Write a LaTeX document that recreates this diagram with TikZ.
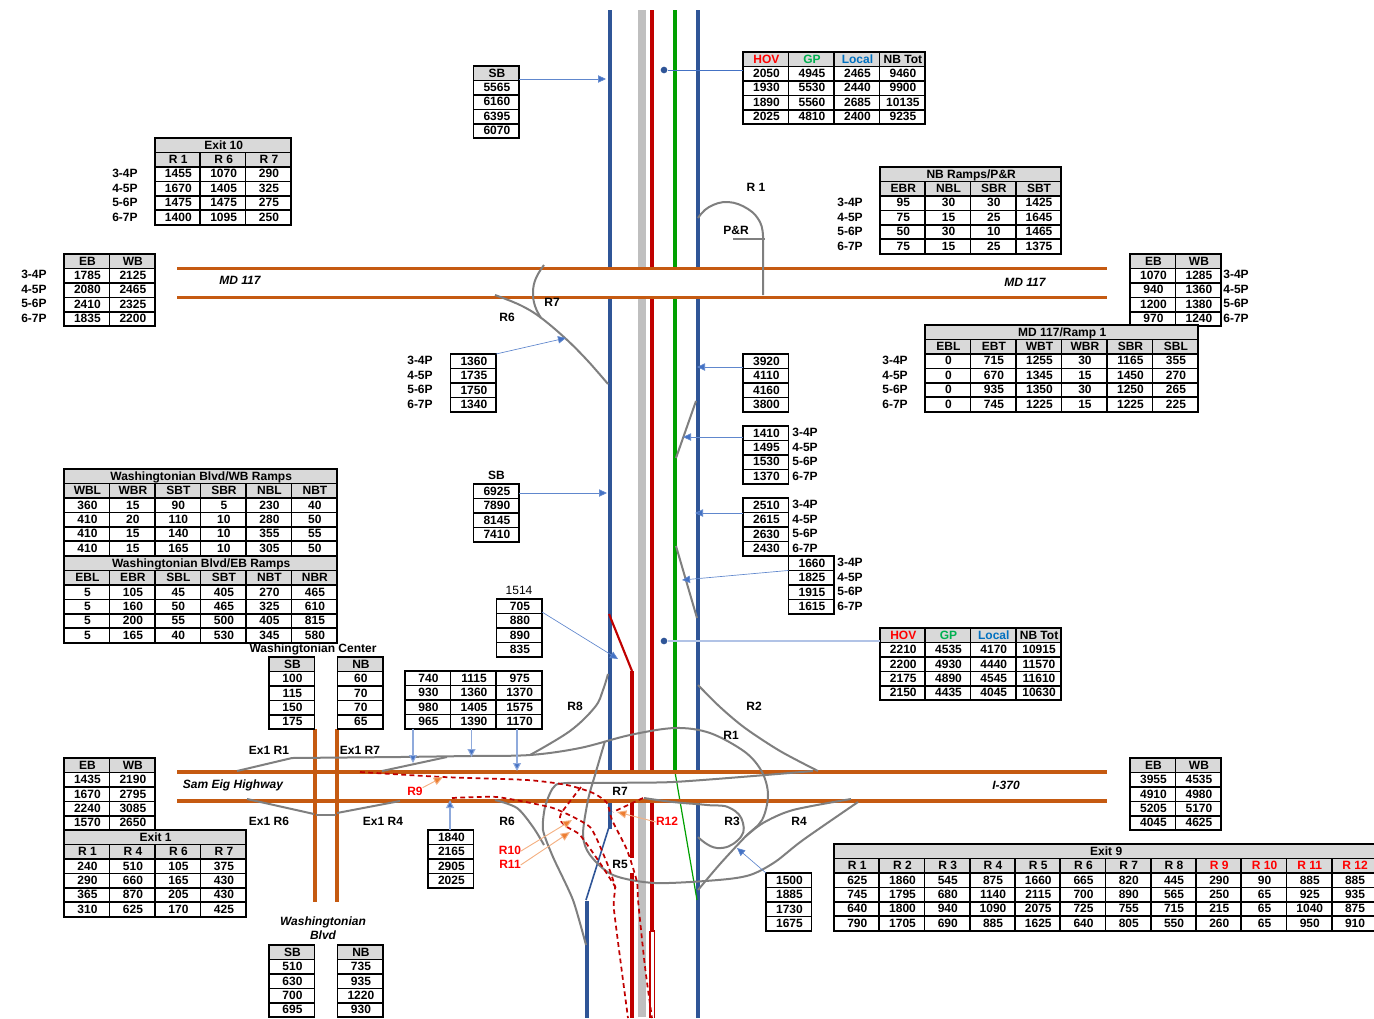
\documentclass[tikz,border=0pt]{standalone}
\usepackage{fontspec}
\setmainfont{Liberation Sans}
\usetikzlibrary{arrows.meta,calc}
\definecolor{roadblue}{HTML}{2F5597}
\definecolor{roadred}{HTML}{C00000}
\definecolor{roadgreen}{HTML}{00A000}
\definecolor{roadorange}{HTML}{C55A11}
\definecolor{median}{HTML}{BFBFBF}
\definecolor{ramp}{HTML}{7F7F7F}
\definecolor{headgray}{HTML}{D9D9D9}
\definecolor{arrblue}{HTML}{4472C4}
\definecolor{arrlight}{HTML}{8FAADC}
\definecolor{arrorange}{HTML}{ED7D31}
\definecolor{arrolight}{HTML}{F4B183}
\definecolor{hovred}{HTML}{FF0000}
\definecolor{gpgreen}{HTML}{00B050}
\definecolor{localblue}{HTML}{0070C0}
\tikzset{
  tcell/.style={draw=black,line width=1.25pt,inner sep=0pt,outer sep=0pt,text height=6.2pt,text depth=0.4pt,align=center},
  txt/.style={inner sep=0pt,outer sep=0pt,text height=6.2pt,text depth=0.4pt},
  orange road/.style={draw=roadorange,line width=2.4pt},
  blue road/.style={draw=roadblue,line width=3.2pt},
  red road/.style={draw=roadred,line width=2.3pt},
  green road/.style={draw=roadgreen,line width=3.4pt},
  median road/.style={draw=median,line width=6pt},
  ramp line/.style={draw=ramp,line width=1.5pt,line join=round},
  red dash/.style={draw=roadred,line width=1.3pt,dash pattern=on 3.6pt off 2.6pt},
  blue arr/.style={draw=arrblue!85,line width=.5pt,-{Triangle[length=6pt,width=5.5pt,fill=arrblue]}},
  light arr/.style={draw=arrlight,line width=.8pt,-{Triangle[length=6pt,width=6pt,fill=arrblue]}},
  orange arr/.style={draw=arrolight,line width=.7pt,-{Triangle[length=7pt,width=6pt,fill=arrorange]}},
  road dot/.style={circle,fill=roadblue,inner sep=0pt,minimum size=5pt},
}
\def\rowh{14.45}
% name, x, y, column width, header rows, rows
\newcommand{\tb}[6]{%
  \foreach \rr [count=\ri from 1] in {#6}{%
    \foreach \cc [count=\ci from 1] in \rr {%
      \ifnum\ri>#5\relax\def\fc{white}\else\def\fc{headgray}\fi
      \node[tcell,fill=\fc,minimum width=#4*0.75pt,minimum height=\rowh*0.75pt] (#1-\ri-\ci) at ({#2+(\ci-0.5)*#4},{#3+(\ri-0.5)*\rowh}) {\hspace*{1pt}\cc};
    }%
  }%
}
% name, x, y, width, text
\newcommand{\tbtitle}[5]{%
  \node[tcell,fill=headgray,minimum width=#4*0.75pt,minimum height=\rowh*0.75pt] (#1) at ({#2+0.5*#4},{#3+0.5*\rowh}) {\hspace*{1pt}#5};
}
% name, x, y of first row centre
\newcommand{\hours}[3]{%
  \foreach \hh [count=\hi from 0] in {3-4P,4-5P,5-6P,6-7P}{%
    \node[txt] (#1-\hi) at ({#2},{#3+\hi*\rowh}) {\hh};
  }%
}
\newcommand{\hov}{\textcolor{hovred}{HOV}}
\newcommand{\gpx}{\textcolor{gpgreen}{GP}}
\newcommand{\lcl}{\textcolor{localblue}{Local}}
\newcommand{\redt}[1]{\textcolor{hovred}{#1}}
\begin{document}
\begin{tikzpicture}[x=0.75pt,y=-0.75pt,every node/.append style={font=\fontsize{9}{10}\selectfont\bfseries}]
\useasboundingbox (0,0) rectangle (1374,1018);

% mainline carriageways
\draw[median road] (642,10) -- (642,268) (642,298) -- (642,772) (642,800) -- (642,1017);
\draw[blue road] (610,10) -- (610,269) (610,297) -- (610,772) (610,800) -- (610,829);
\draw[blue road] (587,901) -- (587,1018);
\draw[draw=roadblue,line width=1.2pt] (609,827) -- (586,900);
\draw[blue road] (698,10) -- (698,269) (698,297) -- (698,772) (698,801) -- (698,1018);
\draw[red road] (652,10) -- (652,269) (652,297) -- (652,772) (652,801) -- (652,931);
\draw[draw=roadred,line width=1.1pt] (650,931) -- (650,1018) (654.5,931) -- (654.5,1018) (650,931) -- (654.5,931);
\draw[green road] (675,10) -- (675,269) (675,297) -- (675,772);
\draw[draw=roadgreen,line width=.9pt] (675,772) -- (697,900);
\draw[draw=roadred,line width=1.6pt] (609,614) -- (632,671);
\draw[red road] (632,671) -- (632,772) (632,800) -- (632,858) (632,873) -- (632,960);
\draw[draw=roadred,line width=3.6pt] (632,960) -- (632,1018);

% cross streets
\draw[orange road] (177,268.5) -- (1107,268.5) (177,297.5) -- (1107,297.5);
\draw[orange road] (177,772) -- (1107,772) (177,801) -- (1107,801);
\draw[orange road] (315,729) -- (315,902) (337,729) -- (337,902);

% ramps, north part
\draw[ramp line] plot[smooth,tension=.7] coordinates {(698,218) (709,207) (728,202) (748,209) (760,222) (763,236)} -- (763,295);
\draw[ramp line] (733,239) -- (765,239);
\draw[ramp line] plot[smooth,tension=.7] coordinates {(544,265) (536,278) (533,292) (535,306) (541,318)};
\draw[ramp line] plot[smooth,tension=.6] coordinates {(495,295) (520,305) (540,317) (565,338) (587,360) (608,384)};
\draw[ramp line] (696,401) -- (676,458);
\draw[ramp line] (676,546) -- (697,618);

% ramps, south part
\draw[ramp line] plot[smooth,tension=.5] coordinates {(698,685) (720,707) (745,728) (780,751) (818,771)};
\draw[ramp line] plot[smooth,tension=.6] coordinates {(608,674) (603,690) (595,707) (570,731) (530,755)};
\draw[ramp line] (237,771) -- (292,758) -- (400,757);
\draw[ramp line] (382,771) -- (447,757);
\draw[ramp line] (247,799) -- (314,814);
\draw[draw=ramp,line width=2.2pt] (316,815) -- (336,815);
\draw[ramp line] (337,813) -- (400,801);
\draw[ramp line] plot[smooth,tension=.55] coordinates {(400,757) (470,756) (530,755) (580,748) (630,735) (675,728) (710,733) (745,752) (762,772) (768,795) (762,820) (745,837) (720,864) (698,890)};
\draw[ramp line] plot[smooth,tension=.5] coordinates {(851,799) (793,810) (763,823) (745,837)};
\draw[ramp line] plot[smooth,tension=.5] coordinates {(605,741) (595,775) (588,800) (583,835) (590,855) (613,875) (655,883) (718,880) (750,875) (775,862) (803,840) (858,802)};
\draw[ramp line] plot[smooth,tension=.8] coordinates {(644,798) (673,802) (707,805) (730,808) (743,823) (738,840) (717,848) (698,837)};
\draw[ramp line] plot[smooth,tension=.4] coordinates {(813,771) (673,782) (567,783) (553,788) (545,807) (543,830) (553,857) (573,900) (586,945)};
\draw[ramp line] plot[smooth,tension=.5] coordinates {(495,800) (517,808) (533,827) (544,845)};

% proposed ramps, dashed
\draw[red dash] plot[smooth,tension=.4] coordinates {(360,772) (443,777) (527,780) (567,785) (593,793) (607,803) (612,820) (627,850) (637,882) (638,900) (645,967) (652,1018)};
\draw[red dash] (643,798) -- (613,812);
\draw[red dash] plot[smooth,tension=.35] coordinates {(581,787) (562,812) (560,820) (567,827) (580,835) (600,863) (616,888)};
\draw[red dash] plot[smooth,tension=.3] coordinates {(452,798) (497,797) (553,808) (590,827) (607,863) (615,887) (614,910) (628,1018)};

% tables
\tb{nb1}{743}{52}{45.5}{1}{{\hov,\gpx,\lcl,NB Tot},{2050,4945,2465,9460},{1930,5530,2440,9900},{1890,5560,2685,10135},{2025,4810,2400,9235}}
\tb{sb1}{473.5}{66}{45.5}{1}{{SB},{5565},{6160},{6395},{6070}}
\tbtitle{ex10}{155}{138}{136}{Exit 10}
\tb{ex10t}{155}{152.45}{45.33}{1}{{R 1,R 6,R 7},{1455,1070,290},{1670,1405,325},{1475,1475,275},{1400,1095,250}}
\hours{ex10h}{125}{174}
\tbtitle{nbr}{880}{167}{181}{NB Ramps/P\&R}
\tb{nbrt}{880}{181.45}{45.25}{1}{{EBR,NBL,SBR,SBT},{95,30,30,1425},{75,15,25,1645},{50,30,10,1465},{75,15,25,1375}}
\hours{nbrh}{850}{203}
\tb{mdl}{64}{254}{45.5}{1}{{EB,WB},{1785,2125},{2080,2465},{2410,2325},{1835,2200}}
\hours{mdlh}{34}{275}
\tb{mdr}{1130}{254}{45.5}{1}{{EB,WB},{1070,1285},{940,1360},{1200,1380},{970,1240}}
\hours{mdrh}{1236}{275}
\tbtitle{mdq}{925}{325}{273}{MD 117/Ramp 1}
\tb{mdqt}{925}{339.45}{45.5}{1}{{EBL,EBT,WBT,WBR,SBR,SBL},{0,715,1255,30,1165,355},{0,670,1345,15,1450,270},{0,935,1350,30,1250,265},{0,745,1225,15,1225,225}}
\hours{mdqh}{895}{361}
\tb{r6t}{450.5}{354}{45.5}{0}{{1360},{1735},{1750},{1340}}
\hours{r6h}{420}{361}
\tb{a39}{743}{354}{45.5}{0}{{3920},{4110},{4160},{3800}}
\tb{a14}{743}{426}{45.5}{0}{{1410},{1495},{1530},{1370}}
\hours{a14h}{805}{433}
\tb{a25}{743}{498}{45.5}{0}{{2510},{2615},{2630},{2430}}
\hours{a25h}{805}{505}
\tb{a16}{788.5}{556}{45.5}{0}{{1660},{1825},{1915},{1615}}
\hours{a16h}{850}{563}
\node[txt] (sb2l) at (496.5,476) {SB};
\tb{sb2}{473.5}{484}{45.5}{0}{{6925},{7890},{8145},{7410}}
\tbtitle{wwb}{64}{469}{273}{Washingtonian Blvd/WB Ramps}
\tb{wwbt}{64}{483.45}{45.5}{1}{{WBL,WBR,SBT,SBR,NBL,NBT},{360,15,90,5,230,40},{410,20,110,10,280,50},{410,15,140,10,355,55},{410,15,165,10,305,50}}
\tbtitle{web}{64}{556}{273}{Washingtonian Blvd/EB Ramps}
\tb{webt}{64}{570.45}{45.5}{1}{{EBL,EBR,SBL,SBT,NBT,NBR},{5,105,45,405,270,465},{5,160,50,465,325,610},{5,200,55,500,405,815},{5,165,40,530,345,580}}
\node[txt,font=\fontsize{9}{10}\selectfont\mdseries] (l1514) at (519,591) {1514};
\tb{a705}{496.5}{599}{45.5}{0}{{705},{880},{890},{835}}
\tb{nb2}{880}{628}{45.25}{1}{{\hov,\gpx,\lcl,NB Tot},{2210,4535,4170,10915},{2200,4930,4440,11570},{2175,4890,4545,11610},{2150,4435,4045,10630}}
\node[txt] (wcl) at (313,649) {Washingtonian Center};
\tb{wcs}{269}{657}{45.5}{1}{{SB},{100},{115},{150},{175}}
\tb{wcn}{337.5}{657}{45.5}{1}{{NB},{60},{70},{70},{65}}
\tb{a74}{405}{671}{45.6}{0}{{740,1115,975},{930,1360,1370},{980,1405,1575},{965,1390,1170}}
\tb{sel}{64}{758}{45.5}{1}{{EB,WB},{1435,2190},{1670,2795},{2240,3085},{1570,2650}}
\tbtitle{ex1}{64}{830}{182}{Exit 1}
\tb{ex1t}{64}{844.45}{45.5}{1}{{R 1,R 4,R 6,R 7},{240,510,105,375},{290,660,165,430},{365,870,205,430},{310,625,170,425}}
\tb{a18}{428}{830}{45.5}{0}{{1840},{2165},{2905},{2025}}
\tb{a15}{766}{873}{45.5}{0}{{1500},{1885},{1730},{1675}}
\tb{ser}{1130}{758}{45.5}{1}{{EB,WB},{3955,4535},{4910,4980},{5205,5170},{4045,4625}}
\tbtitle{ex9}{834}{844}{543}{Exit 9}
\tb{ex9t}{834}{858.45}{45.25}{1}{{R 1,R 2,R 3,R 4,R 5,R 6,R 7,R 8,\redt{R 9},\redt{R 10},\redt{R 11},\redt{R 12}},{625,1860,545,875,1660,665,820,445,290,90,885,885},{745,1795,680,1140,2115,700,890,565,250,65,925,935},{640,1800,940,1090,2075,725,755,715,215,65,1040,875},{790,1705,690,885,1625,640,805,550,260,65,950,910}}
\tb{wbs}{269}{945}{45.5}{1}{{SB},{510},{630},{700},{695}}
\tb{wbn}{337.5}{945}{45.5}{1}{{NB},{735},{935},{1220},{930}}

% labels
\node[txt] (lr1a) at (756,188) {R 1};
\node[txt] (lpr) at (736,231) {P\&R};
\node[txt] (lr7a) at (552,303) {R7};
\node[txt] (lr6a) at (507,318) {R6};
\node[txt,font=\fontsize{9}{10}\selectfont\bfseries\itshape] (lmd1) at (240,281) {MD 117};
\node[txt,font=\fontsize{9}{10}\selectfont\bfseries\itshape] (lmd2) at (1025,283) {MD 117};
\node[txt] (lr8) at (575,707) {R8};
\node[txt] (lr2) at (754,707) {R2};
\node[txt] (lr1b) at (731,736) {R1};
\node[txt] (lex1) at (269,751) {Ex1 R1};
\node[txt] (lex7) at (360,751) {Ex1 R7};
\node[txt,font=\fontsize{9}{10}\selectfont\bfseries\itshape] (lsam) at (233,785) {Sam Eig Highway};
\node[txt,font=\fontsize{9}{10}\selectfont\bfseries\itshape] (li370) at (1006,786) {I-370};
\node[txt,text=hovred] (lr9) at (415,792) {R9};
\node[txt] (lr7b) at (620,792) {R7};
\node[txt,text=hovred] (lr12) at (667,822) {R12};
\node[txt] (lr3) at (732,822) {R3};
\node[txt] (lr4) at (799,822) {R4};
\node[txt] (lex6) at (269,822) {Ex1 R6};
\node[txt] (lex4) at (383,822) {Ex1 R4};
\node[txt] (lr6b) at (507,822) {R6};
\node[txt,text=hovred] (lr10) at (510,851) {R10};
\node[txt,text=hovred] (lr11) at (510,865) {R11};
\node[txt] (lr5) at (620,865) {R5};
\node[txt,font=\fontsize{9}{10}\selectfont\bfseries\itshape] (lw1) at (323,922) {Washingtonian};
\node[txt,font=\fontsize{9}{10}\selectfont\bfseries\itshape] (lw2) at (323,936) {Blvd};

% count arrows
\node[road dot] (d1) at (664,70) {};
\node[road dot] (d2) at (664,641) {};
\draw[draw=arrblue,line width=.55pt] (d1) -- (d1 -| nb1-2-1.west);
\draw[draw=arrlight!70,line width=1.1pt] (d2) -- (d2 -| nb2-1-1.west);
\coordinate (e1) at (606,79);
\draw[blue arr] (sb1-1-1.east |- e1) -- (e1);
\coordinate (e2) at (566,338);
\draw[blue arr] (r6t-1-1.north east) -- (e2);
\coordinate (e3) at (697,367);
\draw[blue arr] (a39-1-1.west |- e3) -- (e3);
\coordinate (e4) at (683,437);
\draw[blue arr] (a14-1-1.west |- e4) -- (e4);
\coordinate (e5) at (607,493);
\draw[blue arr] (sb2-1-1.east |- e5) -- (e5);
\coordinate (e6) at (695,513);
\draw[blue arr] (a25-1-1.west |- e6) -- (e6);
\coordinate (e7) at (682,580);
\draw[blue arr] (a16-1-1.south west) -- (e7);
\coordinate (e8) at (618,659);
\draw[blue arr] (a705-1-1.north east |- 0,612) -- (e8);
\coordinate (e9) at (413,763);
\draw[light arr] (e9 |- a74-4-1.south) -- (e9);
\coordinate (e10) at (471.5,757);
\draw[light arr] (e10 |- a74-4-2.south) -- (e10);
\coordinate (e11) at (517,771);
\draw[light arr] (e11 |- a74-4-3.south) -- (e11);
\coordinate (e12) at (450,800);
\draw[light arr] (e12 |- a18-1-1.north) -- (e12);
\coordinate (e13) at (737,848);
\draw[blue arr] (a15-1-1.north west) -- (e13);
\coordinate (o9) at (443,777);
\draw[orange arr] (lr9.north east) -- (o9);
\coordinate (o10) at (572,820);
\draw[orange arr] (lr10.east) -- (o10);
\coordinate (o11) at (570,832);
\draw[orange arr] (lr11.east) -- (o11);
\coordinate (o12) at (617,812);
\draw[orange arr] (lr12.west) -- (o12);
\end{tikzpicture}
\end{document}
